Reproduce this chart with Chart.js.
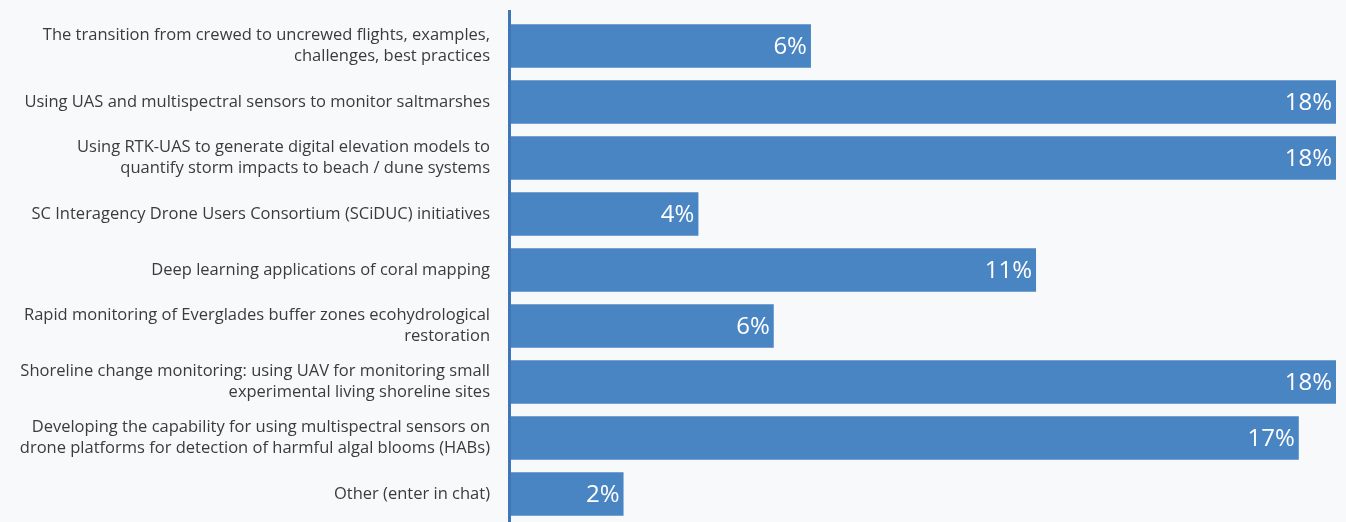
<!DOCTYPE html>
<html>
<head>
<meta charset="utf-8">
<script src="https://cdn.jsdelivr.net/npm/chart.js@4/dist/chart.umd.min.js"></script>
<style>
  html, body { margin: 0; padding: 0; background: #f8f9fb; }
  #wrap { width: 1346px; height: 522px; }
</style>
</head>
<body>
<div id="wrap"><canvas id="chart" width="1346" height="522"></canvas></div>
<script>
// poll topics (y axis), each label split into lines like the reference
const topics = [
  ['The transition from crewed to uncrewed flights, examples,', 'challenges, best practices'],
  'Using UAS and multispectral sensors to monitor saltmarshes',
  ['Using RTK-UAS to generate digital elevation models to', 'quantify storm impacts to beach / dune systems'],
  'SC Interagency Drone Users Consortium (SCiDUC) initiatives',
  'Deep learning applications of coral mapping',
  ['Rapid monitoring of Everglades buffer zones ecohydrological', 'restoration'],
  ['Shoreline change monitoring: using UAV for monitoring small', 'experimental living shoreline sites'],
  ['Developing the capability for using multispectral sensors on', 'drone platforms for detection of harmful algal blooms (HABs)'],
  'Other (enter in chat)'
];

// share of votes in percent
const shares = [6.45, 17.74, 17.74, 4.03, 11.29, 5.65, 17.74, 16.94, 2.42];

// text printed at the end of each bar
const shareLabels = ['6%', '18%', '18%', '4%', '11%', '6%', '18%', '17%', '2%'];

const FONT = '"Open Sans", "Noto Sans", sans-serif';

// write the percentage inside the end of each bar
const valueLabels = {
  id: 'valueLabels',
  afterDatasetsDraw(chart) {
    const ctx = chart.ctx;
    const meta = chart.getDatasetMeta(0);
    ctx.save();
    ctx.fillStyle = '#ffffff';
    ctx.font = '24px ' + FONT;
    ctx.textAlign = 'right';
    ctx.textBaseline = 'middle';
    meta.data.forEach((bar, i) => {
      ctx.fillText(shareLabels[i], bar.x - 4, bar.y + 1);
    });
    ctx.restore();
  }
};

// axis line, a little taller than the plot area like in the original
const axisLine = {
  id: 'axisLine',
  afterDraw(chart) {
    const { ctx, chartArea } = chart;
    ctx.save();
    ctx.strokeStyle = '#3f76b8';
    ctx.lineWidth = 3;
    ctx.beginPath();
    ctx.moveTo(chartArea.left - 1.5, chartArea.top - 8);
    ctx.lineTo(chartArea.left - 1.5, chartArea.bottom);
    ctx.stroke();
    ctx.restore();
  }
};

new Chart(document.getElementById('chart').getContext('2d'), {
  type: 'bar',
  data: {
    labels: topics,
    datasets: [{
      data: shares,
      backgroundColor: '#4a85c3',
      borderWidth: 0,
      barPercentage: 0.86,
      categoryPercentage: 0.9
    }]
  },
  options: {
    indexAxis: 'y',
    responsive: false,
    animation: false,
    layout: { padding: { top: 18, right: 10, bottom: 0, left: 0 } },
    plugins: {
      legend: { display: false },
      tooltip: { enabled: false }
    },
    scales: {
      x: {
        display: false,
        min: 0,
        max: Math.max(...shares)
      },
      y: {
        afterFit(scale) {
          scale.width = 511;
          scale.paddingTop = 0;
          scale.paddingBottom = 0;
        },
        grid: { display: false },
        border: { display: false },
        ticks: {
          color: '#3b3b3b',
          padding: 13,
          font: { family: FONT, size: 16.5, lineHeight: 1.28 }
        }
      }
    }
  },
  plugins: [valueLabels, axisLine]
});
</script>
</body>
</html>
